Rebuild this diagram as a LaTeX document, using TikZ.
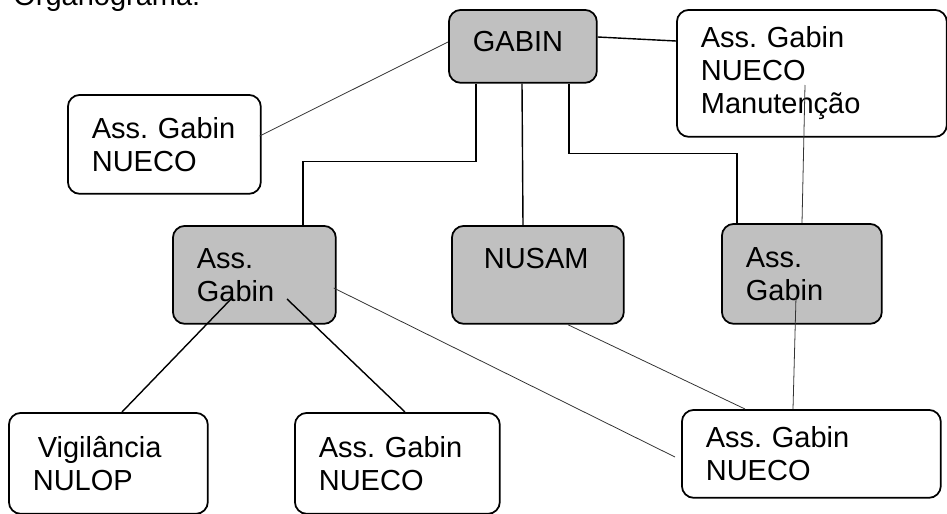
\documentclass[tikz,border=0pt]{standalone}
\usepackage{fontspec}
\setmainfont{Liberation Sans}
\frenchspacing
\usetikzlibrary{calc}
\definecolor{boxgray}{RGB}{192,192,192}
\tikzstyle{orgbox} = [rectangle, draw, line width=1pt, rounded corners=0.24cm, fill=white, anchor=north west, align=left, inner xsep=0.48cm, inner ysep=0pt, font=\fontsize{16.5}{18.8}\selectfont]
\tikzstyle{orgboxgray} = [orgbox, fill=boxgray]
\tikzset{link/.style = {
    line width=0.8pt,
  },
  thinlink/.style = {
    line width=0.45pt, black!80,
  }
}

\begin{document}
\begin{tikzpicture}[x=0.02cm, y=-0.02cm]
            \useasboundingbox (0,0) rectangle (947,514);
            \clip (0,0) rectangle (947,514);
            % title
            \node[anchor=base west, inner sep=0pt, font=\fontsize{16.5}{18.8}\selectfont] (title) at (13,5) {Organograma:};

            % vertices
            \node[orgboxgray, text width=2.0cm, minimum height=1.46cm, text depth=0.2cm] (gabin) at (448,9) {GABIN};
            \node[orgbox, text width=4.44cm, minimum height=2.54cm] (nuecoTop) at (676,9) {Ass. Gabin\\NUECO\\Manutenção};
            \node[orgbox, text width=2.9cm, minimum height=1.98cm] (nuecoLeft) at (67,94) {Ass. Gabin\\NUECO};
            \node[orgboxgray, text width=2.3cm, minimum height=1.96cm] (assLeft) at (172,225) {Ass.\\Gabin};
            \node[orgboxgray, text width=2.48cm, minimum height=1.96cm] (nusam) at (451,225) {\hspace*{0.16cm}NUSAM\\\mbox{}};
            \node[orgboxgray, text width=2.24cm, minimum height=2.0cm] (assRight) at (721,223) {Ass.\\Gabin};
            \node[orgbox, text width=3.02cm, minimum height=2.02cm] (vigil) at (8,412) {\hspace*{0.1cm}Vigilância\\NULOP};
            \node[orgbox, text width=3.14cm, minimum height=2.02cm] (nuecoMid) at (294,412) {Ass. Gabin\\NUECO};
            \node[orgbox, text width=4.22cm, minimum height=1.76cm] (nuecoRight) at (681,409) {Ass. Gabin\\NUECO};

            %edges
            \draw[link] ($(gabin.south west)+(28,0)$) -- ++(0,78) -| ($(assLeft.north west)+(131,0)$);
            \draw[link] ($(gabin.south west)+(74,0)$) -- ($(nusam.north west)+(72,0)$);
            \draw[link] ($(gabin.south west)+(121,0)$) -- ++(0,70) -| ($(assRight.north west)+(16,0)$);
            \draw[link] ($(gabin.north east)+(0,28)$) -- ($(nuecoTop.north west)+(0,32)$);
            \draw[thinlink] ($(gabin.north west)+(0,33)$) -- ($(nuecoLeft.north east)+(-2,42)$);
            \draw[thinlink] ($(nuecoTop.north west)+(129,76)$) -- ($(assRight.north west)+(81,0)$);
            \draw[thinlink] ($(assRight.north west)+(75,74)$) -- ($(nuecoRight.north west)+(112,0)$);
            \draw[thinlink] ($(nusam.south west)+(117,0)$) -- ($(nuecoRight.north west)+(64,0)$);
            \draw[thinlink] ($(assLeft.north east)+(-3,63)$) -- ($(nuecoRight.north west)+(-6,48)$);
            \draw[link] ($(assLeft.north west)+(60,73)$) -- ($(vigil.north west)+(114,0)$);
            \draw[link] ($(assLeft.north west)+(115,74)$) -- ($(nuecoMid.north west)+(111,0)$);
\end{tikzpicture}
\end{document}
